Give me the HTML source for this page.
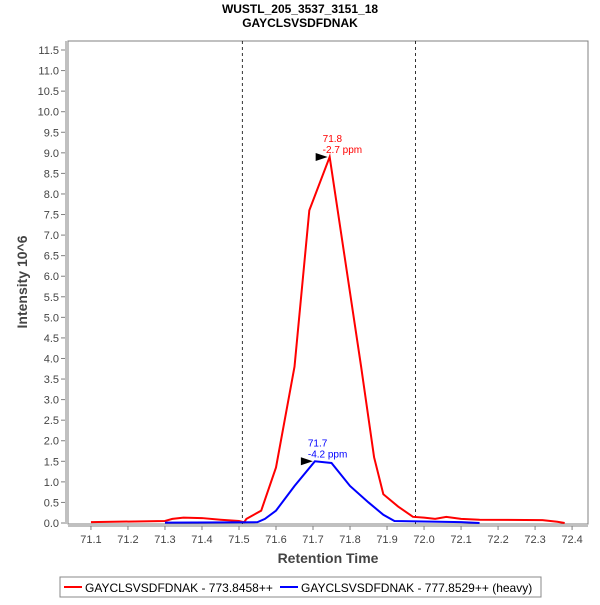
<!DOCTYPE html>
<html><head><meta charset="utf-8"><style>
body{margin:0;background:#fff;font-family:"Liberation Sans",sans-serif}
</style></head><body>
<svg id="c" width="600" height="600" xmlns="http://www.w3.org/2000/svg">
<text x="300" y="13" text-anchor="middle" font-size="12" font-weight="bold">WUSTL_205_3537_3151_18</text>
<text x="300" y="27" text-anchor="middle" font-size="12" font-weight="bold">GAYCLSVSDFDNAK</text>
<rect x="68" y="41" width="520" height="483" fill="#fff" stroke="#808080"/>
<g id="axes"></g>
<g id="marks"></g>
<text x="328" y="563" text-anchor="middle" font-size="14" font-weight="bold" fill="#444">Retention Time</text>
<text transform="translate(27,282) rotate(-90)" text-anchor="middle" font-size="14" font-weight="bold" fill="#444">Intensity 10^6</text>
<g>
<rect x="60" y="577" width="481" height="20" fill="#fff" stroke="#888"/>
<line x1="64" y1="587" x2="82" y2="587" stroke="#f00" stroke-width="2"/>
<text x="85" y="592" font-size="12">GAYCLSVSDFDNAK - 773.8458++</text>
<line x1="280" y1="587" x2="298" y2="587" stroke="#00f" stroke-width="2"/>
<text x="301" y="592" font-size="12">GAYCLSVSDFDNAK - 777.8529++ (heavy)</text>
</g>
</svg>
<script>
const xTicks=[71.1,71.2,71.3,71.4,71.5,71.6,71.7,71.8,71.9,72.0,72.1,72.2,72.3,72.4];
const yTicks=[0,0.5,1,1.5,2,2.5,3,3.5,4,4.5,5,5.5,6,6.5,7,7.5,8,8.5,9,9.5,10,10.5,11,11.5];
const boundaries=[71.509,71.977];
const redX=[71.1,71.3,71.32,71.35,71.4,71.45,71.5,71.514,71.52,71.56,71.6,71.65,71.69,71.745,71.785,71.83,71.865,71.89,71.93,71.97,72.0,72.03,72.06,72.1,72.15,72.32,72.36,72.38];
const redY=[0.02,0.05,0.1,0.13,0.12,0.08,0.05,0.02,0.1,0.3,1.35,3.8,7.6,8.9,6.5,3.8,1.6,0.7,0.4,0.15,0.13,0.1,0.15,0.1,0.08,0.07,0.03,0];
const blueX=[71.3,71.55,71.57,71.6,71.65,71.705,71.75,71.8,71.85,71.89,71.92,72.1,72.15];
const blueY=[0.01,0.02,0.1,0.3,0.9,1.5,1.46,0.9,0.5,0.2,0.05,0.02,0];
const peaks=[{x:71.745,y:8.9,l1:"71.8",l2:"-2.7 ppm",c:"#f00"},{x:71.705,y:1.5,l1:"71.7",l2:"-4.2 ppm",c:"#00f"}];
const X=v=>68+(v-71.038)/(72.443-71.038)*520;
const Y=v=>523-v*41.13;
const NS="http://www.w3.org/2000/svg";
const ax=document.getElementById('axes'),mk=document.getElementById('marks');
function el(t,a,p){const e=document.createElementNS(NS,t);for(const k in a)e.setAttribute(k,a[k]);p.appendChild(e);return e;}
xTicks.forEach(v=>{
 el('line',{x1:X(v),y1:526,x2:X(v),y2:530,stroke:'#808080'},ax);
 const t=el('text',{x:X(v),y:543,'text-anchor':'middle','font-size':11,fill:'#444'},ax);t.textContent=v.toFixed(1);
 
 
});
yTicks.forEach(v=>{
 el('line',{x1:61,y1:Y(v),x2:65,y2:Y(v),stroke:'#808080'},ax);
 const t=el('text',{x:59,y:Y(v)+4,'text-anchor':'end','font-size':11,fill:'#444'},ax);t.textContent=v.toFixed(1);
 
 
});
el('line',{x1:66,y1:41,x2:66,y2:524,stroke:'#808080'},ax);
el('line',{x1:68,y1:526,x2:588,y2:526,stroke:'#808080'},ax);
boundaries.forEach(v=>{
 const l=el('line',{x1:X(v),y1:41,x2:X(v),y2:524,stroke:'#000','stroke-width':0.8,'stroke-dasharray':'3,3'},mk);
 
 
});
function series(xs,ys,c,name){
 const p=el('polyline',{points:xs.map((x,i)=>X(x)+','+Y(ys[i])).join(' '),fill:'none',stroke:c,'stroke-width':2},mk);
 
 
}
series(redX,redY,'#f00','light-series-line');
series(blueX,blueY,'#00f','heavy-series-line');
peaks.forEach(p=>{
 const px=X(p.x),py=Y(p.y);
 el('polygon',{points:`${px-14},${py-4} ${px-2},${py} ${px-14},${py+4}`,fill:'#000'},mk);
 const a=el('text',{x:px-7,y:py-15,'font-size':10,fill:p.c},mk);a.textContent=p.l1;
 
 
 const b=el('text',{x:px-7,y:py-4,'font-size':10,fill:p.c},mk);b.textContent=p.l2;
 
 
});
</script>
</body></html>
